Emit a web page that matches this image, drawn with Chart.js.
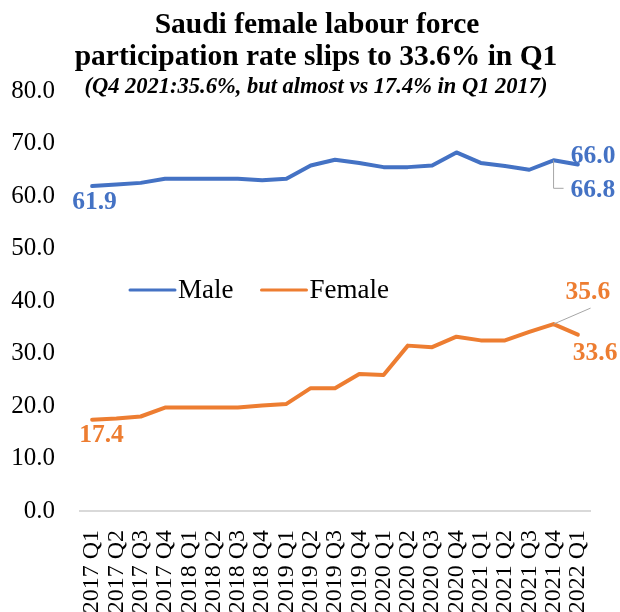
<!DOCTYPE html>
<html>
<head>
<meta charset="utf-8">
<script src="https://cdn.jsdelivr.net/npm/chart.js@4.4.1/dist/chart.umd.min.js"></script>
<style>
  html, body { margin: 0; padding: 0; background: #fff; }
  #wrap { width: 620px; height: 612px; }
</style>
</head>
<body>
<div id="wrap"><canvas id="lfpr" width="620" height="612"></canvas></div>
<script>
var quarters = [
  '2017 Q1', '2017 Q2', '2017 Q3', '2017 Q4',
  '2018 Q1', '2018 Q2', '2018 Q3', '2018 Q4',
  '2019 Q1', '2019 Q2', '2019 Q3', '2019 Q4',
  '2020 Q1', '2020 Q2', '2020 Q3', '2020 Q4',
  '2021 Q1', '2021 Q2', '2021 Q3', '2021 Q4',
  '2022 Q1'
];
var maleRate = [61.9, 62.2, 62.5, 63.3, 63.3, 63.3, 63.3, 63.0, 63.3, 65.8, 66.9,
                66.3, 65.5, 65.5, 65.8, 68.3, 66.3, 65.7, 65.0, 66.8, 66.0];
var femaleRate = [17.4, 17.6, 18.0, 19.7, 19.7, 19.7, 19.7, 20.1, 20.4, 23.4, 23.4,
                  26.1, 25.9, 31.5, 31.2, 33.2, 32.5, 32.5, 34.1, 35.6, 33.6];
var seriesNames = ['Male', 'Female'];
var titleLines = ['Saudi female labour force', 'participation rate slips to 33.6% in Q1'];
var subTitle = '(Q4 2021:35.6%, but almost vs 17.4% in Q1 2017)';
var yMin = 0, yMax = 80, yStep = 10;

var BLUE = '#4472C4';
var ORANGE = '#ED7D31';
var SERIF = '"Liberation Serif", "Times New Roman", serif';

// which points get a value label: dataset, index, offset of text, leader line
var pointLabels = [
  { ds: 0, i: 0,  dx: -20, dy: 16 },
  { ds: 0, i: 20, dx: -7,  dy: -8 },
  { ds: 0, i: 19, dx: 17,  dy: 30, leader: 'elbow' },
  { ds: 1, i: 0,  dx: -13, dy: 16 },
  { ds: 1, i: 19, dx: 12,  dy: -32, leader: 'diag' },
  { ds: 1, i: 20, dx: -5,  dy: 19 }
];

var headerPlugin = {
  id: 'header',
  afterDraw: function (chart) {
    var ctx = chart.ctx;
    ctx.save();
    ctx.fillStyle = '#000';
    ctx.textAlign = 'center';
    ctx.textBaseline = 'alphabetic';
    ctx.font = 'bold 29.5px ' + SERIF;
    ctx.fillText(titleLines[0], 317, 33);
    ctx.fillText(titleLines[1], 316, 65);
    ctx.font = 'italic bold 22.5px ' + SERIF;
    ctx.fillText(subTitle, 316, 93);
    ctx.restore();
  }
};

var legendPlugin = {
  id: 'innerLegend',
  afterDraw: function (chart) {
    var ctx = chart.ctx;
    var x = 130, y = 290;
    ctx.save();
    ctx.font = '27px ' + SERIF;
    ctx.textBaseline = 'middle';
    ctx.textAlign = 'left';
    chart.data.datasets.forEach(function (ds) {
      ctx.strokeStyle = ds.borderColor;
      ctx.lineWidth = 3;
      ctx.lineCap = 'round';
      ctx.beginPath();
      ctx.moveTo(x, y);
      ctx.lineTo(x + 45, y);
      ctx.stroke();
      ctx.fillStyle = '#000';
      ctx.fillText(ds.label, x + 48, y + 1);
      x += 48 + ctx.measureText(ds.label).width + 28;
    });
    ctx.restore();
  }
};

var valueLabelPlugin = {
  id: 'valueLabels',
  afterDatasetsDraw: function (chart) {
    var ctx = chart.ctx;
    ctx.save();
    ctx.font = 'bold 25.5px ' + SERIF;
    ctx.textBaseline = 'middle';
    ctx.textAlign = 'left';
    pointLabels.forEach(function (l) {
      var ds = chart.data.datasets[l.ds];
      var pt = chart.getDatasetMeta(l.ds).data[l.i];
      if (l.leader) {
        ctx.strokeStyle = '#a6a6a6';
        ctx.lineWidth = 1;
        ctx.beginPath();
        ctx.moveTo(pt.x, pt.y);
        if (l.leader === 'elbow') {
          ctx.lineTo(pt.x, pt.y + l.dy - 2);
          ctx.lineTo(pt.x + l.dx - 7, pt.y + l.dy - 2);
        } else {
          ctx.lineTo(pt.x + l.dx + 25, pt.y + l.dy + 16);
        }
        ctx.stroke();
      }
      ctx.fillStyle = ds.borderColor;
      ctx.fillText(ds.data[l.i].toFixed(1), pt.x + l.dx, pt.y + l.dy);
    });
    ctx.restore();
  }
};

var ctx = document.getElementById('lfpr').getContext('2d');
var lfprChart = new Chart(ctx, {
  type: 'line',
  data: {
    labels: quarters,
    datasets: [
      {
        label: seriesNames[0],
        data: maleRate,
        borderColor: BLUE,
        backgroundColor: BLUE,
        borderWidth: 4,
        borderCapStyle: 'round',
        borderJoinStyle: 'round',
        pointRadius: 0,
        tension: 0
      },
      {
        label: seriesNames[1],
        data: femaleRate,
        borderColor: ORANGE,
        backgroundColor: ORANGE,
        borderWidth: 4,
        borderCapStyle: 'round',
        borderJoinStyle: 'round',
        pointRadius: 0,
        tension: 0
      }
    ]
  },
  options: {
    responsive: false,
    animation: false,
    layout: { padding: { top: 91, right: 30, left: 0, bottom: 0 } },
    plugins: {
      legend: { display: false },
      tooltip: { enabled: false },
      title: { display: false }
    },
    scales: {
      x: {
        offset: true,
        grid: { display: false, drawTicks: false },
        border: { display: true, color: '#d9d9d9', width: 2 },
        ticks: {
          autoSkip: false,
          minRotation: 90,
          maxRotation: 90,
          padding: 19,
          color: '#000',
          font: { family: SERIF, size: 24 }
        },
        afterFit: function (scale) {
          scale.height = 101;
          scale.paddingLeft = 0;
          scale.paddingRight = 0;
        }
      },
      y: {
        min: yMin,
        max: yMax,
        grid: { display: false, drawTicks: false },
        border: { display: false },
        ticks: {
          stepSize: yStep,
          padding: 25,
          color: '#000',
          font: { family: SERIF, size: 25 },
          callback: function (v) { return v.toFixed(1); }
        },
        afterFit: function (scale) { scale.width = 80; }
      }
    }
  },
  plugins: [headerPlugin, legendPlugin, valueLabelPlugin]
});
</script>
</body>
</html>
